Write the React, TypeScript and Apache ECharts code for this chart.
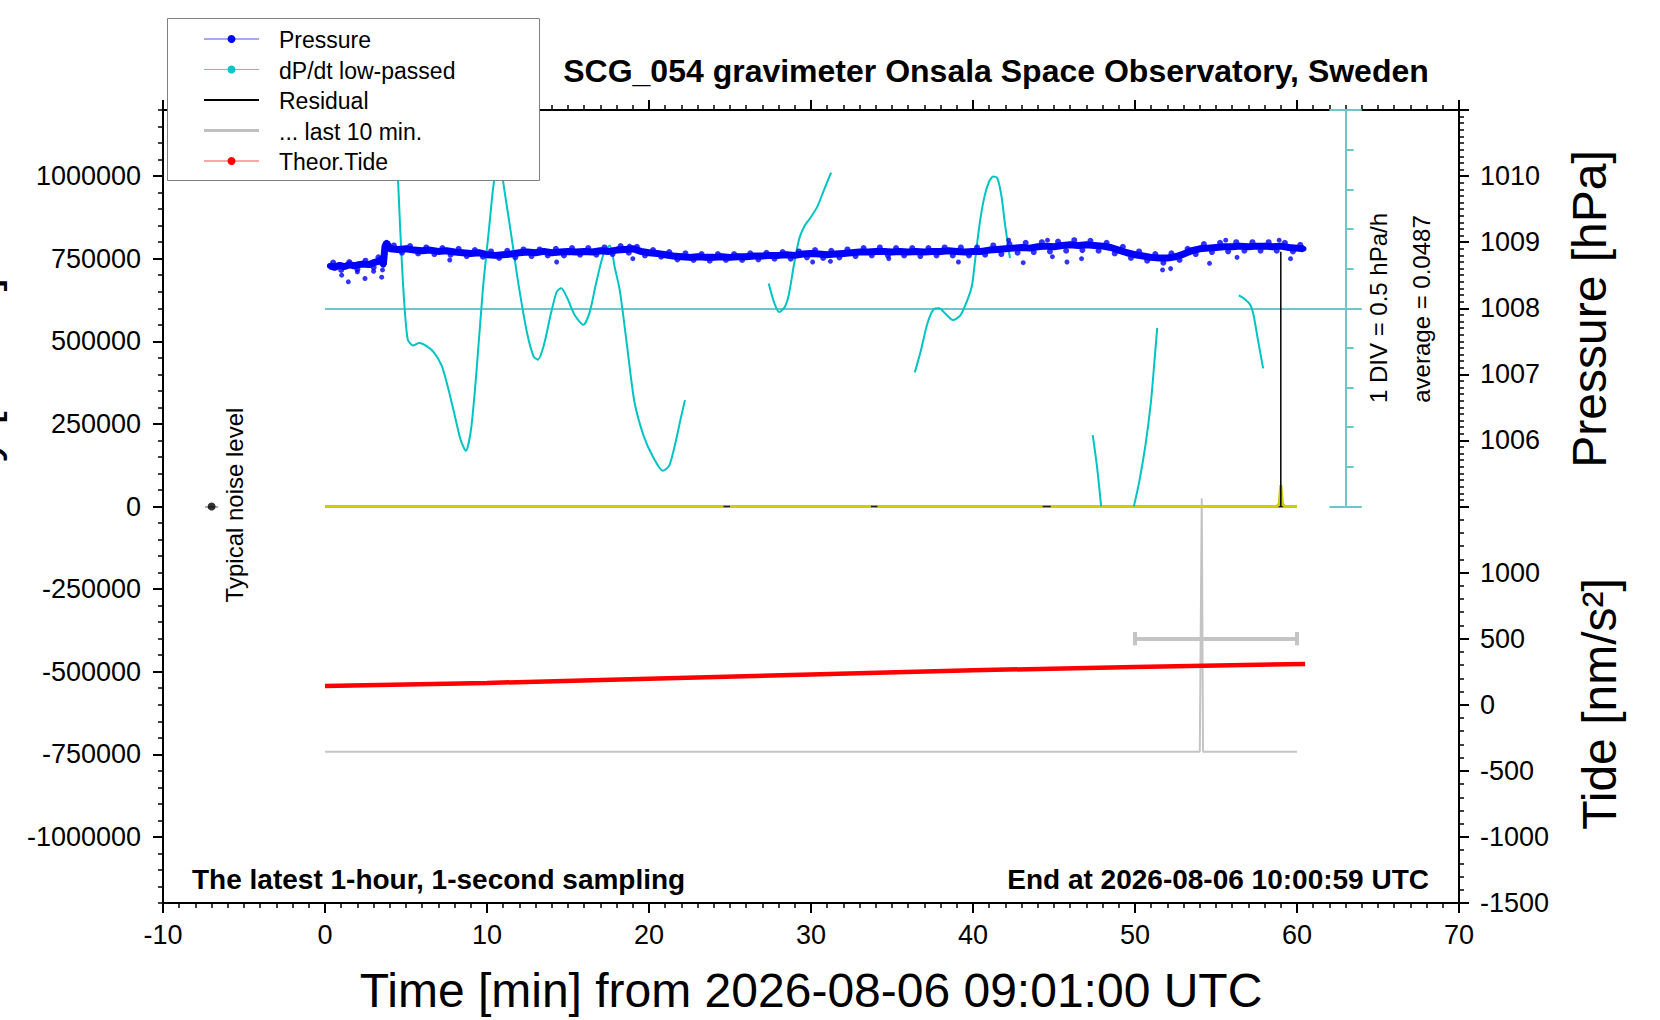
import React, { useEffect, useRef } from "react";
import * as echarts from "echarts";

const FONT = "'Liberation Sans', Arial, Helvetica, sans-serif";

// ---------- axis values ----------
const leftLabelValues = [-1000000, -750000, -500000, -250000, 0, 250000, 500000, 750000, 1000000];
const pressureLabelValues = [1006, 1007, 1008, 1009, 1010];
const pressureMajorTicks = [1005, 1006, 1007, 1008, 1009, 1010, 1011];
const tideLabelValues = [-1500, -1000, -500, 0, 500, 1000];

// ---------- data ----------
const pressurePoints: number[][] = [
  [0.3, 1008.64], [0.6, 1008.62], [0.9, 1008.65], [1.2, 1008.63], [1.5, 1008.66], [1.8, 1008.64],
  [2.1, 1008.66], [2.4, 1008.67], [2.7, 1008.66], [3.0, 1008.69], [3.3, 1008.71], [3.5, 1008.74],
  [3.6, 1008.66], [3.7, 1008.93], [3.8, 1008.99], [4.0, 1008.9], [4.5, 1008.89], [5.0, 1008.9],
  [5.5, 1008.88], [6.0, 1008.87], [6.5, 1008.88], [7.0, 1008.86], [7.5, 1008.87], [8.0, 1008.85],
  [8.5, 1008.84], [9.0, 1008.83], [9.5, 1008.84], [10.0, 1008.81], [10.5, 1008.8], [11.0, 1008.81],
  [11.5, 1008.82], [12.0, 1008.84], [12.5, 1008.85], [13.0, 1008.84], [13.5, 1008.86], [14.0, 1008.84],
  [14.5, 1008.85], [15.0, 1008.86], [15.5, 1008.85], [16.0, 1008.86], [16.5, 1008.85], [17.0, 1008.87],
  [17.5, 1008.86], [18.0, 1008.88], [18.5, 1008.89], [19.0, 1008.9], [19.5, 1008.86], [20.0, 1008.84],
  [20.5, 1008.83], [21.0, 1008.81], [21.5, 1008.79], [22.0, 1008.78], [22.5, 1008.77], [23.0, 1008.78],
  [23.5, 1008.77], [24.0, 1008.77], [24.5, 1008.78], [25.0, 1008.77], [25.5, 1008.78], [26.0, 1008.78],
  [26.5, 1008.79], [27.0, 1008.79], [27.5, 1008.8], [28.0, 1008.8], [28.5, 1008.81], [29.0, 1008.8],
  [29.5, 1008.82], [30.0, 1008.83], [30.5, 1008.82], [31.0, 1008.81], [31.5, 1008.82], [32.0, 1008.83],
  [32.5, 1008.84], [33.0, 1008.85], [33.5, 1008.85], [34.0, 1008.86], [34.5, 1008.86], [35.0, 1008.85],
  [35.5, 1008.86], [36.0, 1008.85], [36.5, 1008.86], [37.0, 1008.85], [37.5, 1008.86], [38.0, 1008.86],
  [38.5, 1008.87], [39.0, 1008.86], [39.5, 1008.85], [40.0, 1008.86], [40.5, 1008.86], [41.0, 1008.88],
  [41.5, 1008.89], [42.0, 1008.9], [42.5, 1008.91], [43.0, 1008.92], [43.5, 1008.91], [44.0, 1008.93],
  [44.5, 1008.94], [45.0, 1008.93], [45.5, 1008.95], [46.0, 1008.96], [46.5, 1008.95], [47.0, 1008.96],
  [47.5, 1008.95], [48.0, 1008.94], [48.5, 1008.92], [49.0, 1008.88], [49.5, 1008.84], [50.0, 1008.81],
  [50.5, 1008.79], [51.0, 1008.77], [51.5, 1008.76], [52.0, 1008.76], [52.5, 1008.78], [53.0, 1008.82],
  [53.5, 1008.87], [54.0, 1008.9], [54.5, 1008.91], [55.0, 1008.92], [55.5, 1008.93], [56.0, 1008.93],
  [56.5, 1008.94], [57.0, 1008.93], [57.5, 1008.94], [58.0, 1008.94], [58.5, 1008.93], [59.0, 1008.94],
  [59.5, 1008.92], [60.0, 1008.91], [60.4, 1008.9],
];

// scattered samples at the edges of the noisy pressure band
const pressureEdge: number[][] = [
  [0.5, 1008.69], [1.0, 1008.58], [1.5, 1008.7], [2.0, 1008.59], [2.5, 1008.72], [3.0, 1008.62], [3.3, 1008.77],
  [4.25, 1008.95], [4.75, 1008.84], [5.25, 1008.94], [5.75, 1008.83], [6.25, 1008.92], [6.75, 1008.82],
  [7.25, 1008.91], [7.75, 1008.81], [8.25, 1008.9], [8.75, 1008.79], [9.25, 1008.88], [9.75, 1008.78],
  [10.25, 1008.86], [10.75, 1008.76], [11.25, 1008.87], [11.75, 1008.77], [12.25, 1008.89], [12.75, 1008.79],
  [13.25, 1008.89], [13.75, 1008.8], [14.25, 1008.9], [14.75, 1008.8], [15.25, 1008.91], [15.75, 1008.81],
  [16.25, 1008.91], [16.75, 1008.81], [17.25, 1008.92], [17.75, 1008.82], [18.25, 1008.94], [18.75, 1008.84],
  [19.25, 1008.93], [19.75, 1008.8], [20.25, 1008.88], [20.75, 1008.78], [21.25, 1008.85], [21.75, 1008.74],
  [22.25, 1008.83], [22.75, 1008.73], [23.25, 1008.82], [23.75, 1008.72], [24.25, 1008.82], [24.75, 1008.73],
  [25.25, 1008.82], [25.75, 1008.73], [26.25, 1008.83], [26.75, 1008.74], [27.25, 1008.84], [27.75, 1008.75],
  [28.25, 1008.85], [28.75, 1008.75], [29.25, 1008.86], [29.75, 1008.77], [30.25, 1008.88], [30.75, 1008.76],
  [31.25, 1008.87], [31.75, 1008.77], [32.25, 1008.89], [32.75, 1008.79], [33.25, 1008.91], [33.75, 1008.8],
  [34.25, 1008.92], [34.75, 1008.8], [35.25, 1008.91], [35.75, 1008.8], [36.25, 1008.91], [36.75, 1008.79],
  [37.25, 1008.91], [37.75, 1008.8], [38.25, 1008.92], [38.75, 1008.8], [39.25, 1008.92], [39.75, 1008.8],
  [40.25, 1008.92], [40.75, 1008.81], [41.25, 1008.95], [41.75, 1008.82], [42.25, 1008.97], [42.75, 1008.84],
  [43.25, 1008.99], [43.75, 1008.85], [44.25, 1009.0], [44.75, 1008.86], [45.25, 1009.01], [45.75, 1008.87],
  [46.25, 1009.03], [46.75, 1008.88], [47.25, 1009.02], [47.75, 1008.87], [48.25, 1008.99], [48.75, 1008.83],
  [49.25, 1008.93], [49.75, 1008.76], [50.25, 1008.86], [50.75, 1008.72], [51.25, 1008.82], [51.75, 1008.69],
  [52.25, 1008.83], [52.75, 1008.73], [53.25, 1008.9], [53.75, 1008.82], [54.25, 1008.97], [54.75, 1008.85],
  [55.25, 1008.99], [55.75, 1008.86], [56.25, 1009.0], [56.75, 1008.87], [57.25, 1009.0], [57.75, 1008.87],
  [58.25, 1009.0], [58.75, 1008.87], [59.25, 1008.99], [59.75, 1008.86], [60.2, 1008.96],
];

const pressureOutliers: number[][] = [
  [1.03, 1008.5], [1.44, 1008.4], [2.0, 1008.55], [2.47, 1008.45], [3.0, 1008.56], [3.5, 1008.47],
  [3.55, 1008.58], [7.7, 1008.73], [14.3, 1008.7], [18.8, 1008.94], [19.0, 1008.75], [30.1, 1008.7],
  [31.2, 1008.71], [34.8, 1008.75], [39.1, 1008.7], [42.2, 1009.03], [43.1, 1008.69], [44.6, 1009.03],
  [44.9, 1008.78], [45.8, 1008.7], [46.7, 1008.75], [51.7, 1008.58], [52.2, 1008.6], [54.6, 1008.68],
  [55.6, 1009.03], [56.3, 1008.77], [58.9, 1009.03], [59.6, 1008.75],
];

const dpdtSeg1: number[][] = [
  [4.3, 2.3], [4.5, 1.7], [4.63, 1.1], [4.84, 0.28], [5.1, -0.34], [5.42, -0.42], [5.82, -0.39],
  [6.27, -0.43], [6.73, -0.51], [7.19, -0.67], [7.58, -0.94], [7.97, -1.27], [8.37, -1.61], [8.69, -1.75],
  [9.02, -1.47], [9.35, -0.75], [9.75, 0.3], [10.15, 1.1], [10.4, 1.6], [10.65, 1.85], [10.9, 1.75],
  [11.1, 1.5], [11.44, 1.05], [11.96, 0.33], [12.48, -0.27], [12.88, -0.56], [13.14, -0.6], [13.53, -0.4],
  [13.92, -0.04], [14.31, 0.26], [14.58, 0.3], [14.97, 0.17], [15.42, -0.04], [15.95, -0.16], [16.34, 0.0],
  [16.73, 0.36], [17.19, 0.73], [17.58, 0.84], [17.9, 0.55], [18.2, 0.27], [18.6, -0.35], [19.1, -1.13],
  [19.67, -1.56], [20.26, -1.83], [20.85, -2.0], [21.24, -1.94], [21.63, -1.65], [21.96, -1.34], [22.22, -1.11],
];
const dpdtSeg2: number[][] = [
  [27.39, 0.36], [27.71, 0.13], [28.04, 0.0], [28.37, 0.06], [28.63, 0.22], [28.95, 0.6], [29.28, 0.93],
  [29.61, 1.09], [30.0, 1.2], [30.39, 1.33], [30.78, 1.53], [31.24, 1.76],
];
const dpdtSeg3: number[][] = [
  [36.41, -0.76], [36.8, -0.47], [37.19, -0.14], [37.58, 0.04], [37.91, 0.05], [38.3, -0.02], [38.76, -0.1],
  [39.22, -0.04], [39.61, 0.13], [39.93, 0.33], [40.1, 0.6], [40.4, 1.1], [40.7, 1.45], [41.0, 1.65],
  [41.25, 1.71], [41.5, 1.69], [41.76, 1.46], [41.98, 1.1], [42.28, 0.68],
];
const dpdtSeg4: number[][] = [[47.39, -1.55], [47.65, -1.94], [47.91, -2.45]];
const dpdtSeg5: number[][] = [[49.93, -2.45], [50.26, -2.14], [50.65, -1.67], [50.98, -1.14], [51.18, -0.67], [51.37, -0.2]];
const dpdtSeg6: number[][] = [[56.41, 0.21], [56.8, 0.16], [57.12, 0.09], [57.32, -0.04], [57.58, -0.34], [57.91, -0.71]];
const dpdtSegments = [dpdtSeg1, dpdtSeg2, dpdtSeg3, dpdtSeg4, dpdtSeg5, dpdtSeg6];
const dpdtAverage = 0.0487;
const dpdtDiv = 0.5;
const dpdtDivCount = 10;
const dpdtScaleX = 63;
const dpdtAverageEnd = 64;

const tidePoints: number[][] = [[0, 141], [10, 165], [20, 197], [30, 229], [40, 261], [50, 285], [60.5, 309]];

const residualBase: number[][] = [[0, 0], [60, 0]];
const residualSpike: number[][] = [[59.0, 0], [59.0, 771000]];
const yellowSeg1: number[][] = [[0, 0], [24.6, 0]];
const yellowSeg2: number[][] = [[25.0, 0], [33.7, 0]];
const yellowSeg3: number[][] = [[34.1, 0], [44.3, 0]];
const yellowSeg4: number[][] = [[44.8, 0], [58.75, 0], [58.9, 8000], [59.0, 65000], [59.1, 8000], [59.25, 0], [60, 0]];
const yellowSegments = [yellowSeg1, yellowSeg2, yellowSeg3, yellowSeg4];

const lastTenPoints: number[][] = [[0, -742000], [54.0, -742000], [54.12, 25000], [54.2, -742000], [60, -742000]];
const lastTenBarFrom = 50;
const lastTenBarTo = 60;
const lastTenBarLevel = -400000;
const lastTenBarCap = 20000;

const noisePoint = [-7, 0];
const noiseHalfWidth = 0.4;

// ---------- option ----------
function buildOption(): any {
  const axisFont = { fontFamily: FONT, fontSize: 27, color: "#000" };
  const black = { color: "#000", width: 2 };
  const xBase = {
    type: "value", min: -10, max: 70, interval: 10,
    splitLine: { show: false }, minorSplitLine: { show: false },
    axisLine: { show: true, onZero: false, lineStyle: black },
    axisTick: { show: true, inside: false, length: 10, lineStyle: black },
    minorTick: { show: true, splitNumber: 10, length: 5, lineStyle: { color: "#000", width: 1.5 } },
  };
  const yBase = { type: "value", splitLine: { show: false }, minorSplitLine: { show: false } };
  const noLine = { show: false, onZero: false };
  const minorTickStyle = { color: "#000", width: 1.5 };
  const fmt = (v: number) => String(v);

  const pressureMinor: number[] = [];
  for (let i = 0; i <= 60; i++) pressureMinor.push(Math.round((1005 + i * 0.1) * 10) / 10);
  const tideMinor: number[] = [];
  for (let v = -1500; v <= 1500; v += 100) tideMinor.push(v);

  const dpdtMin = dpdtAverage - (dpdtDivCount / 2) * dpdtDiv;
  const dpdtMax = dpdtAverage + (dpdtDivCount / 2) * dpdtDiv;
  const scaleLines: any[] = [
    { coords: [[0, dpdtAverage], [dpdtAverageEnd, dpdtAverage]] },
    { coords: [[dpdtScaleX, dpdtMin], [dpdtScaleX, dpdtMax]] },
    { coords: [[dpdtScaleX - 1, dpdtMin], [dpdtScaleX + 1, dpdtMin]] },
    { coords: [[dpdtScaleX - 1, dpdtMax], [dpdtScaleX + 1, dpdtMax]] },
  ];
  for (let k = 1; k < dpdtDivCount; k++) {
    const v = dpdtMin + k * dpdtDiv;
    scaleLines.push({ coords: [[dpdtScaleX, v], [dpdtScaleX + 0.5, v]] });
  }

  const series: any[] = [];
  series.push({
    type: "line", xAxisIndex: 0, yAxisIndex: 0, data: lastTenPoints, showSymbol: false, symbol: "none",
    lineStyle: { color: "#C4C4C4", width: 2 }, z: 2, silent: true,
  });
  series.push({
    type: "lines", coordinateSystem: "cartesian2d", xAxisIndex: 0, yAxisIndex: 0, z: 2, silent: true,
    lineStyle: { color: "#C4C4C4", width: 4, opacity: 1 },
    data: [
      { coords: [[lastTenBarFrom, lastTenBarLevel], [lastTenBarTo, lastTenBarLevel]] },
      { coords: [[lastTenBarFrom, lastTenBarLevel - lastTenBarCap], [lastTenBarFrom, lastTenBarLevel + lastTenBarCap]] },
      { coords: [[lastTenBarTo, lastTenBarLevel - lastTenBarCap], [lastTenBarTo, lastTenBarLevel + lastTenBarCap]] },
    ],
  });
  series.push({
    type: "line", xAxisIndex: 0, yAxisIndex: 0, data: residualBase, symbol: "none",
    lineStyle: { color: "#222", width: 2 }, z: 3, silent: true,
  });
  yellowSegments.forEach((seg) =>
    series.push({
      type: "line", xAxisIndex: 0, yAxisIndex: 0, data: seg, symbol: "none",
      lineStyle: { color: "#CDCD00", width: 3 }, z: 4, silent: true,
    })
  );
  series.push({
    type: "line", xAxisIndex: 0, yAxisIndex: 0, data: residualSpike, symbol: "none",
    lineStyle: { color: "#000", width: 1.5 }, z: 6, silent: true,
  });
  series.push({
    type: "lines", coordinateSystem: "cartesian2d", xAxisIndex: 0, yAxisIndex: 6, z: 3, silent: true,
    lineStyle: { color: "#6CC8C8", width: 2, opacity: 1 }, data: scaleLines,
  });
  dpdtSegments.forEach((seg) =>
    series.push({
      type: "line", xAxisIndex: 0, yAxisIndex: 6, data: seg, symbol: "none", smooth: 0.25,
      lineStyle: { color: "#00C4C4", width: 2 }, z: 4, silent: true,
    })
  );
  series.push({
    type: "line", xAxisIndex: 0, yAxisIndex: 2, data: pressurePoints, symbol: "circle", symbolSize: 6,
    showSymbol: true, itemStyle: { color: "#0000FF" }, lineStyle: { color: "#0000FF", width: 7 }, z: 5, silent: true,
  });
  series.push({
    type: "scatter", xAxisIndex: 0, yAxisIndex: 2, data: pressureEdge, symbolSize: 6,
    itemStyle: { color: "#0000FF" }, z: 5, silent: true,
  });
  series.push({
    type: "scatter", xAxisIndex: 0, yAxisIndex: 2, data: pressureOutliers, symbolSize: 5,
    itemStyle: { color: "#0000FF" }, z: 5, silent: true,
  });
  series.push({
    type: "line", xAxisIndex: 0, yAxisIndex: 4, data: tidePoints, symbol: "none",
    lineStyle: { color: "#FF0000", width: 4.5 }, z: 5, silent: true,
  });
  series.push({
    type: "lines", coordinateSystem: "cartesian2d", xAxisIndex: 0, yAxisIndex: 0, z: 5, silent: true,
    lineStyle: { color: "#AAAAAA", width: 2, opacity: 1 },
    data: [{ coords: [[noisePoint[0] - noiseHalfWidth, noisePoint[1]], [noisePoint[0] + noiseHalfWidth, noisePoint[1]]] }],
  });
  series.push({
    type: "scatter", xAxisIndex: 0, yAxisIndex: 0, data: [noisePoint], symbolSize: 8,
    itemStyle: { color: "#000" }, z: 6, silent: true,
  });

  // ---------- graphic (legend, titles) ----------
  const legendRows = [
    { name: "Pressure", kind: "dot", color: "#0000FF", line: "#5050FF" },
    { name: "dP/dt low-passed", kind: "dot", color: "#00C8C8", line: "#50D0D0" },
    { name: "Residual", kind: "line", color: "#000", width: 2 },
    { name: "... last 10 min.", kind: "line", color: "#C0C0C0", width: 3 },
    { name: "Theor.Tide", kind: "dot", color: "#FF0000", line: "#FF5050" },
  ];
  const g: any[] = [];
  g.push({
    type: "rect", z: 100, shape: { x: 167.5, y: 18.5, width: 372, height: 162 },
    style: { fill: "#fff", stroke: "#808080", lineWidth: 1 },
  });
  legendRows.forEach((r, i) => {
    const y = 39 + i * 30.5;
    if (r.kind === "dot") {
      g.push({ type: "line", z: 101, shape: { x1: 204, y1: y, x2: 259, y2: y }, style: { stroke: r.line, lineWidth: 1 } });
      g.push({ type: "circle", z: 102, shape: { cx: 231.5, cy: y, r: 4 }, style: { fill: r.color } });
    } else {
      g.push({ type: "line", z: 101, shape: { x1: 204, y1: y, x2: 259, y2: y }, style: { stroke: r.color, lineWidth: r.width } });
    }
    g.push({
      type: "text", z: 102, x: 279, y: y + 1,
      style: { text: r.name, fontFamily: FONT, fontSize: 23, fill: "#000", align: "left", verticalAlign: "middle" },
    });
  });
  const txt = (text: string, x: number, y: number, size: number, opts: any = {}) => ({
    type: "text", z: 90, x, y, rotation: opts.rotation || 0,
    style: {
      text, fontFamily: FONT, fontSize: size, fontWeight: opts.bold ? "bold" : "normal", fill: "#000",
      align: opts.align || "center", verticalAlign: "middle",
    },
  });
  const R = Math.PI / 2;
  g.push(txt("SCG_054 gravimeter Onsala Space Observatory, Sweden", 996, 71, 32, { bold: true }));
  g.push(txt("The latest 1-hour, 1-second sampling", 192, 879, 28, { bold: true, align: "left" }));
  g.push(txt("End at 2026-08-06 10:00:59 UTC", 1429, 879, 28, { bold: true, align: "right" }));
  g.push(txt("Time [min] from 2026-08-06 09:01:00 UTC", 811, 990, 48));
  g.push(txt("Pressure [hPa]", 1589, 309, 48, { rotation: R }));
  g.push(txt("Tide [nm/s\u00B2]", 1599, 704, 48, { rotation: R }));
  g.push(txt("Gravity [nm/s\u00B2]", -20, 434, 48, { rotation: R }));
  g.push(txt("Typical noise level", 234, 505, 24, { rotation: R }));
  g.push(txt("1 DIV = 0.5 hPa/h", 1378, 308, 24, { rotation: R }));
  g.push(txt("average = 0.0487", 1421, 309, 24, { rotation: R }));

  return {
    animation: false,
    backgroundColor: "#fff",
    grid: { left: 163, right: 201, top: 110, bottom: 117, containLabel: false, outerBoundsMode: "none" },
    xAxis: [
      { ...xBase, position: "bottom", axisLabel: { ...axisFont, margin: 18, formatter: fmt } },
      { ...xBase, position: "top", axisLabel: { show: false } },
    ],
    yAxis: [
      {
        ...yBase, position: "left", min: -1200000, max: 1200000, interval: 50000,
        axisLine: { show: true, onZero: false, lineStyle: black },
        axisTick: { show: true, length: 10, customValues: leftLabelValues, lineStyle: black },
        axisLabel: { ...axisFont, margin: 22, customValues: leftLabelValues, formatter: fmt },
      },
      {
        ...yBase, position: "left", min: -1200000, max: 1200000, interval: 50000,
        axisLine: noLine, axisTick: { show: true, length: 5, lineStyle: minorTickStyle }, axisLabel: { show: false },
      },
      {
        ...yBase, position: "right", min: 999, max: 1011,
        axisLine: { show: true, onZero: false, lineStyle: black },
        axisTick: { show: true, length: 10, customValues: pressureMajorTicks, lineStyle: black },
        axisLabel: { ...axisFont, margin: 21, customValues: pressureLabelValues, formatter: fmt },
      },
      {
        ...yBase, position: "right", min: 999, max: 1011,
        axisLine: noLine, axisTick: { show: true, length: 5, customValues: pressureMinor, lineStyle: minorTickStyle },
        axisLabel: { show: false },
      },
      {
        ...yBase, position: "right", min: -1500, max: 4500,
        axisLine: noLine, axisTick: { show: true, length: 10, customValues: tideLabelValues, lineStyle: black },
        axisLabel: { ...axisFont, margin: 21, customValues: tideLabelValues, formatter: fmt },
      },
      {
        ...yBase, position: "right", min: -1500, max: 4500,
        axisLine: noLine, axisTick: { show: true, length: 5, customValues: tideMinor, lineStyle: minorTickStyle },
        axisLabel: { show: false },
      },
      { ...yBase, show: false, min: dpdtAverage - dpdtDivCount * dpdtDiv * 1.5, max: dpdtMax },
    ],
    series,
    graphic: { elements: g },
  };
}

export default function App() {
  const ref = useRef<HTMLDivElement>(null);
  useEffect(() => {
    document.body.style.margin = "0";
    const chart = echarts.init(ref.current as HTMLDivElement, null, { renderer: "svg" });
    chart.setOption(buildOption());
    return () => chart.dispose();
  }, []);
  return <div ref={ref} style={{ width: 1660, height: 1020 }} />;
}
